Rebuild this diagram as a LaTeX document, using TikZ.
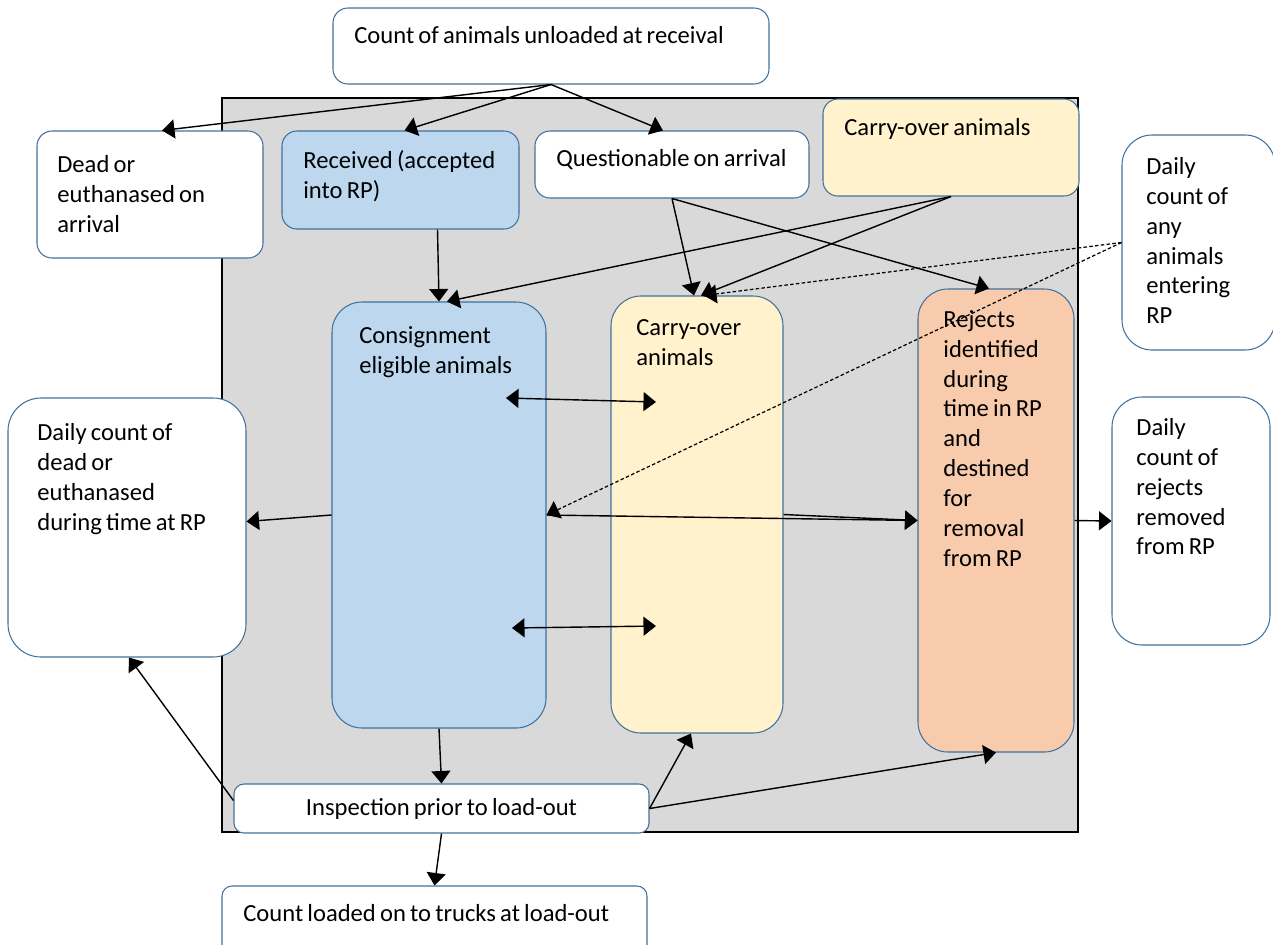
\documentclass[tikz,border=0pt]{standalone}
\usepackage{fontspec}
\setmainfont{Carlito}
\usetikzlibrary{fit,arrows.meta}
\definecolor{rpgrey}{HTML}{D9D9D9}
\definecolor{rpblue}{HTML}{BDD7EE}
\definecolor{rpyellow}{HTML}{FFF2CC}
\definecolor{rporange}{HTML}{F8CBAD}
\definecolor{rpedge}{HTML}{41719C}
\newcommand\rpfont{\fontsize{14}{17}\selectfont\spaceskip=0.17em plus 0.05em\relax}
\begin{document}
\begin{tikzpicture}[
    x=0.02cm, y=-0.02cm,
    >={Triangle[length=0.25cm,width=0.38cm]},
    mybox/.style={draw=rpedge, line width=0.6pt, rounded corners=0.3cm, inner sep=0pt, fill=white},
    mycol/.style={mybox, rounded corners=0.6cm},
    mytext/.style={anchor=north west, align=left, inner sep=0pt, font=\rpfont},
    myarrow/.style={->, line width=0.8pt},
    mydash/.style={myarrow, dash pattern=on 2pt off 1.3pt, line width=0.7pt}
]
    \useasboundingbox (0,0) rectangle (1273,944);

    % RP area
    \node[draw, line width=1.3pt, fill=rpgrey, inner sep=0pt, fit={(222,98) (1078,832)}] (rp) {};

    % Boxes
    \node[mybox, fit={(333,8) (769,84)}] (top) {};
    \node[mybox, fit={(37,131) (263,258)}] (dead) {};
    \node[mybox, fill=rpblue, fit={(282,131) (519,229)}] (recv) {};
    \node[mybox, fit={(535,131) (809,198)}] (quest) {};
    \node[mybox, fill=rpyellow, fit={(823,99) (1079,196)}] (carrytop) {};
    \node[mybox, rounded corners=0.6cm, fit={(1122,135) (1275,350)}] (entering) {};
    \node[mycol, fill=rpblue, fit={(332,302) (546,728)}] (cons) {};
    \node[mycol, fill=rpyellow, fit={(611,296) (783,733)}] (carrymid) {};
    \node[mycol, fill=rporange, fit={(918,289) (1074,752)}] (rejects) {};
    \node[mycol, rounded corners=0.66cm, fit={(8,398) (246,657)}] (dailydead) {};
    \node[mycol, fit={(1112,397) (1270,645)}] (dailyrej) {};
    \node[mybox, rounded corners=0.2cm, fit={(234,784) (649,833)}] (insp) {};
    \node[mybox, rounded corners=0.2cm, fit={(222,886) (647,960)}] (loaded) {};

    % Texts
    \node[mytext] (toptxt) at (354,26) {Count of animals unloaded at receival};
    \node[mytext] (deadtxt) at (57,155) {Dead or\\euthanased on\\arrival};
    \node[mytext] (recvtxt) at (303,150) {Received (accepted\\into RP)};
    \node[mytext] (questtxt) at (556,149) {Questionable on arrival};
    \node[mytext] (carrytoptxt) at (844,118) {Carry-over animals};
    \node[mytext] (enteringtxt) at (1146,157) {Daily\\count of\\any\\animals\\entering\\RP};
    \node[mytext] (constxt) at (359,326) {Consignment\\eligible animals};
    \node[mytext] (carrymidtxt) at (636,319) {Carry-over\\animals};
    \node[mytext] (rejectstxt) at (943,310) {Rejects\\identified\\during\\time in RP\\and\\destined\\for\\removal\\from RP};
    \node[mytext] (dailydeadtxt) at (37,423) {Daily count of\\dead or\\euthanased\\during time at RP};
    \node[mytext] (dailyrejtxt) at (1136,418) {Daily\\count of\\rejects\\removed\\from RP};
    \node[mytext, anchor=center] (insptxt) at (insp.center) {Inspection prior to load-out};
    \node[mytext] (loadedtxt) at (243,904) {Count loaded on to trucks at load-out};

    % Arrival
    \draw[myarrow] (top.south) -- ([shift={(12,0)}]dead.north);
    \draw[myarrow] (top.south) -- ([shift={(4,0)}]recv.north);
    \draw[myarrow] (top.south) -- ([shift={(-9,0)}]quest.north);
    \draw[myarrow] ([shift={(37,0)}]recv.south) -- (cons.north);
    \draw[myarrow] (carrytop.south) -- ([shift={(8,0)}]cons.north);
    \draw[myarrow] (carrytop.south) -- ([shift={(4,0)}]carrymid.north);
    \draw[myarrow] (quest.south) -- ([shift={(-3,0)}]carrymid.north);
    \draw[myarrow] (quest.south) -- ([shift={(-7,0)}]rejects.north);

    % Daily entering
    \draw[mydash] (entering.west) -- ([shift={(7,0)}]carrymid.north);
    \draw[mydash] (entering.west) -- (cons.east);

    % Exchange between columns
    \coordinate (ex1a) at (506,398);
    \coordinate (ex1b) at (656,402);
    \coordinate (ex2a) at (512,628);
    \coordinate (ex2b) at (656,626);
    \draw[myarrow, <->] (ex1a) -- (ex1b);
    \draw[myarrow, <->] (ex2a) -- (ex2b);
    \draw[myarrow] (cons.east) -- (rejects.west);
    \draw[myarrow] (carrymid.east) -- (rejects.west);
    \draw[myarrow] (cons.west) -- ([shift={(0,-6)}]dailydead.east);
    \draw[myarrow] (rejects.east) -- (dailyrej.west);

    % Load-out
    \draw[myarrow] (cons.south) -- (insp.north);
    \draw[myarrow] (insp.south) -- (loaded.north);
    \draw[myarrow] ([shift={(0,-8)}]insp.west) -- ([shift={(2,0)}]dailydead.south);
    \draw[myarrow] (insp.east) -- ([shift={(-6,0)}]carrymid.south);
    \draw[myarrow] (insp.east) -- (rejects.south);
\end{tikzpicture}
\end{document}
